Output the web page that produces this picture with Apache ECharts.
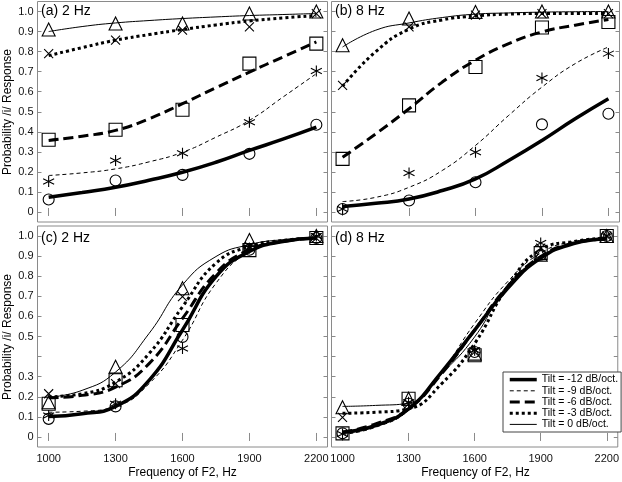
<!DOCTYPE html>
<html>
<head>
<meta charset="utf-8">
<script src="https://cdn.jsdelivr.net/npm/echarts@6/dist/echarts.min.js"></script>
<style>html,body{margin:0;padding:0;background:#fff}#c{width:622px;height:482px}</style>
</head>
<body>
<div id="c"></div>
<script>
// ---- data ----
const tiltNames = ['Tilt = -12 dB/oct.', 'Tilt = -9 dB/oct.', 'Tilt = -6 dB/oct.', 'Tilt = -3 dB/oct.', 'Tilt = 0 dB/oct.'];
const panelLabels = ['(a) 2 Hz', '(b) 8 Hz', '(c) 2 Hz', '(d) 8 Hz'];
const obsFreq = [1000, 1300, 1600, 1900, 2200];
const fitFreq = [1000, 1150, 1300, 1450, 1600, 1750, 1900, 2050, 2200];
const xTicks = [1000, 1300, 1600, 1900, 2200];
const yTicks = [0, 0.1, 0.2, 0.3, 0.4, 0.5, 0.6, 0.7, 0.8, 0.9, 1.0];
const yLabelsTop = [0, 0.1, 0.2, 0.3, 0.4, 0.5, 0.6, 0.7, 0.8, 0.9, 1.0];
const yLabelsBottom = [0, 0.1, 0.2, 0.3, 0.5, 0.6, 0.7, 0.8, 0.9, 1.0];

// panel (a) 2 Hz, top
const obsA_m12 = [0.062, 0.157, 0.185, 0.29, 0.435];
const obsA_m9  = [0.152, 0.257, 0.293, 0.448, 0.703];
const obsA_m6  = [0.36, 0.41, 0.51, 0.74, 0.84];
const obsA_m3  = [0.79, 0.857, 0.907, 0.923, 0.99];
const obsA_0   = [0.91, 0.94, 0.94, 0.99, 1.0];
const fitA_m12 = [0.073, 0.097, 0.123, 0.158, 0.198, 0.248, 0.307, 0.363, 0.423];
const fitA_m9  = [0.182, 0.195, 0.215, 0.25, 0.298, 0.373, 0.457, 0.573, 0.69];
const fitA_m6  = [0.357, 0.378, 0.407, 0.465, 0.54, 0.62, 0.698, 0.773, 0.848];
const fitA_m3  = [0.78, 0.82, 0.857, 0.885, 0.91, 0.933, 0.953, 0.968, 0.98];
const fitA_0   = [0.90, 0.925, 0.943, 0.955, 0.965, 0.973, 0.98, 0.985, 0.99];

// panel (b) 8 Hz, top
const obsB_m12 = [0.015, 0.057, 0.148, 0.437, 0.49];
const obsB_m9  = [0.015, 0.195, 0.298, 0.668, 0.79];
const obsB_m6  = [0.265, 0.532, 0.723, 0.92, 0.948];
const obsB_m3  = [0.632, 0.923, 0.982, 0.99, 0.99];
const obsB_0   = [0.832, 0.965, 0.998, 1.0, 1.0];
const fitB_m12 = [0.027, 0.043, 0.065, 0.107, 0.165, 0.257, 0.357, 0.465, 0.565];
const fitB_m9  = [0.052, 0.073, 0.123, 0.207, 0.332, 0.482, 0.623, 0.74, 0.823];
const fitB_m6  = [0.273, 0.39, 0.515, 0.648, 0.757, 0.84, 0.898, 0.932, 0.96];
const fitB_m3  = [0.627, 0.80, 0.912, 0.958, 0.978, 0.987, 0.99, 0.99, 0.99];
const fitB_0   = [0.823, 0.907, 0.943, 0.97, 0.987, 0.993, 0.997, 0.999, 1.0];

// panel (c) 2 Hz, bottom
const obsC_m12 = [0.09, 0.152, 0.498, 0.932, 0.99];
const obsC_m9  = [0.107, 0.165, 0.44, 0.94, 1.0];
const obsC_m6  = [0.165, 0.282, 0.557, 0.93, 0.99];
const obsC_m3  = [0.215, 0.265, 0.698, 0.948, 0.99];
const obsC_0   = [0.173, 0.35, 0.74, 0.98, 1.0];
const fitC_m12 = [0.102, 0.115, 0.152, 0.282, 0.532, 0.798, 0.923, 0.973, 0.99];
const fitC_m9  = [0.123, 0.128, 0.152, 0.265, 0.482, 0.765, 0.923, 0.973, 0.99];
const fitC_m6  = [0.195, 0.207, 0.248, 0.365, 0.59, 0.815, 0.932, 0.973, 0.99];
const fitC_m3  = [0.2, 0.215, 0.273, 0.415, 0.648, 0.865, 0.948, 0.978, 0.99];
const fitC_0   = [0.198, 0.232, 0.323, 0.515, 0.757, 0.898, 0.957, 0.982, 0.993];

// panel (d) 8 Hz, bottom
const obsD_m12 = [0.018, 0.165, 0.423, 0.907, 1.0];
const obsD_m9  = [0.015, 0.173, 0.432, 0.965, 1.0];
const obsD_m6  = [0.018, 0.19, 0.407, 0.915, 1.0];
const obsD_m3  = [0.098, 0.165, 0.423, 0.94, 1.0];
const obsD_0   = [0.148, 0.19, 0.415, 0.907, 1.0];
const fitD_m12 = [0.023, 0.057, 0.14, 0.323, 0.532, 0.74, 0.89, 0.962, 0.985];
const fitD_m9  = [0.012, 0.048, 0.132, 0.323, 0.565, 0.773, 0.915, 0.973, 0.99];
const fitD_m6  = [0.023, 0.065, 0.14, 0.315, 0.532, 0.748, 0.898, 0.965, 0.985];
const fitD_m3  = [0.118, 0.123, 0.14, 0.265, 0.465, 0.748, 0.932, 0.973, 0.99];
const fitD_0   = [0.152, 0.157, 0.168, 0.315, 0.498, 0.757, 0.89, 0.965, 0.99];

const obsPanels = [
  [obsA_m12, obsA_m9, obsA_m6, obsA_m3, obsA_0],
  [obsB_m12, obsB_m9, obsB_m6, obsB_m3, obsB_0],
  [obsC_m12, obsC_m9, obsC_m6, obsC_m3, obsC_0],
  [obsD_m12, obsD_m9, obsD_m6, obsD_m3, obsD_0]
];
const fitPanels = [
  [fitA_m12, fitA_m9, fitA_m6, fitA_m3, fitA_0],
  [fitB_m12, fitB_m9, fitB_m6, fitB_m3, fitB_0],
  [fitC_m12, fitC_m9, fitC_m6, fitC_m3, fitC_0],
  [fitD_m12, fitD_m9, fitD_m6, fitD_m3, fitD_0]
];

// ---- styles ----
const FONT = '"Liberation Sans", Arial, Helvetica, sans-serif';
const AX = '#8a8a8a';
const lineStyles = [
  {width: 3.5, type: 'solid'},
  {width: 1, type: [4, 3]},
  {width: 3, type: [10, 5]},
  {width: 3, type: [3, 3]},
  {width: 1, type: 'solid'}
];
const asterisk = 'path://M5,0L5,10M0.67,2.5L9.33,7.5M0.67,7.5L9.33,2.5';
const cross = 'path://M0,0L10,10M10,0L0,10';
const symbols = ['circle', asterisk, 'rect', cross, 'triangle'];
const symbolSizes = [11, 11, 13, 9, 13];

const grids = [
  {left: 37.5, top: 1.5, width: 290, height: 220.5},
  {left: 331.5, top: 1.5, width: 288, height: 220.5},
  {left: 37.5, top: 226, width: 290, height: 221},
  {left: 331.5, top: 226, width: 288, height: 221}
].map(g => Object.assign(g, {show: true, borderColor: AX, borderWidth: 1, backgroundColor: '#fff', containLabel: false}));

const xAxes = [], yAxes = [];
for (let p = 0; p < 4; p++) {
  const bottomRow = p >= 2, leftCol = (p % 2) === 0;
  xAxes.push({
    type: 'value', gridIndex: p, min: 950, max: 2250, position: 'bottom',
    axisLine: {show: false}, splitLine: {show: false},
    axisTick: {show: true, inside: true, length: 4, lineStyle: {color: AX}, customValues: xTicks},
    axisLabel: {show: bottomRow, customValues: xTicks, margin: 6, color: '#111', fontFamily: FONT, fontSize: 11,
      formatter: v => String(Math.round(v))}
  });
  xAxes.push({
    type: 'value', gridIndex: p, min: 950, max: 2250, position: 'top',
    axisLine: {show: false}, splitLine: {show: false},
    axisTick: {show: true, inside: true, length: 4, lineStyle: {color: AX}, customValues: xTicks},
    axisLabel: {show: false}
  });
  yAxes.push({
    type: 'value', gridIndex: p, min: -0.05, max: 1.05, position: 'left',
    axisLine: {show: false}, splitLine: {show: false},
    axisTick: {show: true, inside: true, length: 4, lineStyle: {color: AX}, customValues: yTicks},
    axisLabel: {show: leftCol, customValues: bottomRow ? yLabelsBottom : yLabelsTop, margin: 4,
      color: '#111', fontFamily: FONT, fontSize: 11,
      formatter: v => (Math.abs(v) < 1e-9 ? '0' : Number(v).toFixed(1))}
  });
  yAxes.push({
    type: 'value', gridIndex: p, min: -0.05, max: 1.05, position: 'right',
    axisLine: {show: false}, splitLine: {show: false},
    axisTick: {show: true, inside: true, length: 4, lineStyle: {color: AX}, customValues: yTicks},
    axisLabel: {show: false}
  });
}

const series = [];
for (let p = 0; p < 4; p++) {
  for (let c = 0; c < 5; c++) {
    series.push({
      type: 'line', name: tiltNames[c], xAxisIndex: p * 2, yAxisIndex: p * 2,
      data: fitFreq.map((f, i) => [f, fitPanels[p][c][i]]),
      smooth: 0.5, symbol: 'none', silent: true,
      lineStyle: {color: '#000', width: lineStyles[c].width, type: lineStyles[c].type, cap: 'butt'},
      itemStyle: {color: '#000'}, z: 2
    });
  }
  for (let c = 0; c < 5; c++) {
    series.push({
      type: 'scatter', name: 'obs' + c, xAxisIndex: p * 2, yAxisIndex: p * 2,
      data: obsFreq.map((f, i) => [f, obsPanels[p][c][i]]),
      symbol: symbols[c], symbolSize: symbolSizes[c],
      itemStyle: {color: 'rgba(0,0,0,0)', borderColor: '#000', borderWidth: 1.1, opacity: 1},
      z: 3, silent: true
    });
  }
}

const graphic = [];
const labelPos = [[41, 11], [335, 11], [41, 238], [335, 238]];
for (let p = 0; p < 4; p++) {
  graphic.push({type: 'text', x: labelPos[p][0], y: labelPos[p][1], z: 100,
    style: {text: panelLabels[p], fill: '#000', font: '14px ' + FONT, textAlign: 'left', textVerticalAlign: 'middle'}});
}
[112, 337].forEach(cy => graphic.push({type: 'text', x: 8, y: cy, rotation: Math.PI / 2, z: 100,
  style: {text: 'Probability /i/ Response', fill: '#000', font: '12px ' + FONT, textAlign: 'center', textVerticalAlign: 'middle'}}));
[182.5, 475.5].forEach(cx => graphic.push({type: 'text', x: cx, y: 473, z: 100,
  style: {text: 'Frequency of F2, Hz', fill: '#000', font: '12px ' + FONT, textAlign: 'center', textVerticalAlign: 'middle'}}));

const chart = echarts.init(document.getElementById('c'), null, {renderer: 'canvas'});
chart.setOption({
  animation: false,
  backgroundColor: '#fff',
  grid: grids,
  xAxis: xAxes,
  yAxis: yAxes,
  legend: {
    data: tiltNames.map((n, i) => ({
      name: n,
      lineStyle: {color: '#000', width: lineStyles[i].width, type: lineStyles[i].type, cap: 'butt'}
    })),
    orient: 'vertical', left: 503, top: 372,
    itemWidth: 27, itemHeight: 14, itemGap: 0,
    padding: [2, 3, 2, 5],
    backgroundColor: '#fff', borderColor: '#444', borderWidth: 1, borderRadius: 0,
    selectedMode: false,
    itemStyle: {color: 'rgba(0,0,0,0)', borderWidth: 0, opacity: 0},
    textStyle: {color: '#000', fontFamily: FONT, fontSize: 10.5},
    z: 50
  },
  series: series,
  graphic: graphic
});
</script>
</body>
</html>
